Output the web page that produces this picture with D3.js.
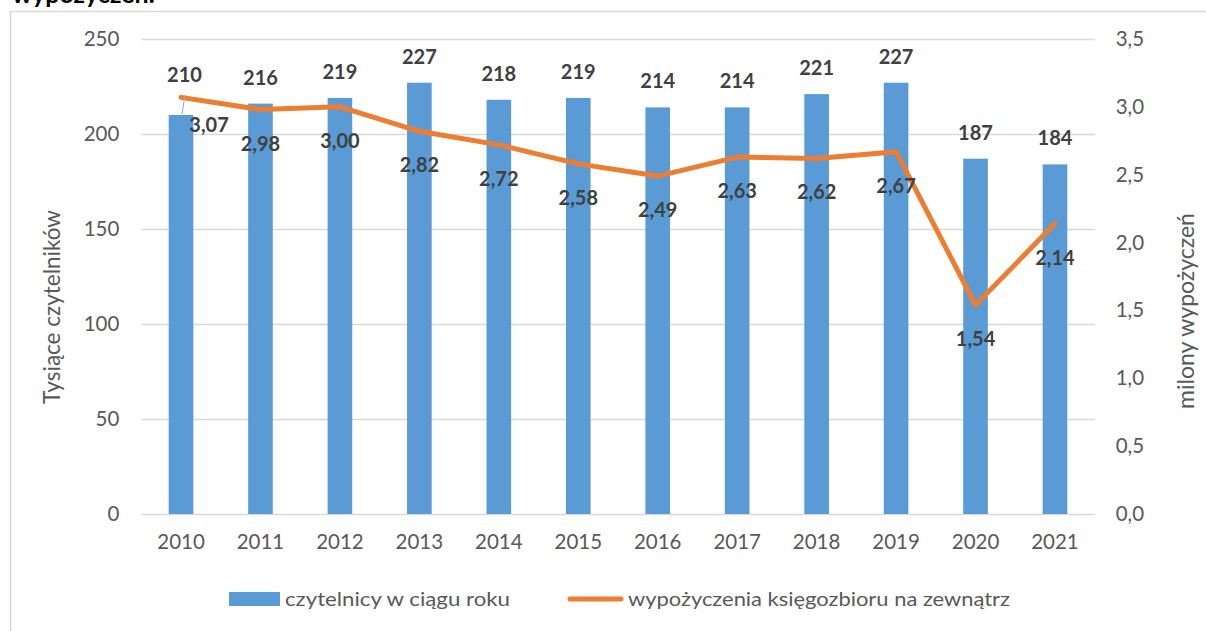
<!DOCTYPE html>
<html>
<head>
<meta charset="utf-8">
<script src="https://cdn.jsdelivr.net/npm/d3@7"></script>
<style>
  html, body { margin: 0; padding: 0; background: #fff; }
  svg { display: block; font-family: Lato, "Open Sans", sans-serif; }
</style>
</head>
<body>
<svg id="chart" width="1206" height="631"></svg>
<script>
// Readers per year (thousands) and external loans (millions)
const years = ["2010","2011","2012","2013","2014","2015","2016","2017","2018","2019","2020","2021"];
const readers = [210, 216, 219, 227, 218, 219, 214, 214, 221, 227, 187, 184];
const loans = [3.07, 2.98, 3.00, 2.82, 2.72, 2.58, 2.49, 2.63, 2.62, 2.67, 1.54, 2.14];
const leftTicks = [0, 50, 100, 150, 200, 250];
const rightTicks = [0, 0.5, 1.0, 1.5, 2.0, 2.5, 3.0, 3.5];
const seriesNames = ["czytelnicy w ciągu roku", "wypożyczenia księgozbioru na zewnątrz"];

const BLUE = "#5B9BD5", ORANGE = "#ED7D31", GRID = "#D9D9D9";
const TICK = "#595959", LABEL = "#404040";

const svg = d3.select("#chart");
const plot = { left: 141.3, right: 1094.7, top: 39, bottom: 514 };

const x = d3.scaleBand().domain(years).range([plot.left, plot.right])
  .paddingInner(0.69).paddingOuter(0.345);
const yL = d3.scaleLinear().domain([0, 250]).range([plot.bottom, plot.top]);
const yR = d3.scaleLinear().domain([0, 3.5]).range([plot.bottom, plot.top]);
const comma = (v, d) => v.toFixed(d).replace(".", ",");

// Title line peeking in from above
svg.append("text").attr("x", 12).attr("y", 3)
  .attr("font-size", 25).attr("font-weight", 700).attr("fill", "#000")
  .text("wypożyczeń.");

// Chart frame
svg.append("rect").attr("x", 10.5).attr("y", 11.5).attr("width", 1220).attr("height", 640)
  .attr("fill", "none").attr("stroke", GRID).attr("stroke-width", 1.5);

// Gridlines + left axis
const axL = svg.append("g").attr("transform", `translate(${plot.left},0)`)
  .call(d3.axisLeft(yL).tickValues(leftTicks).tickSize(-(plot.right - plot.left)).tickPadding(22));
axL.select(".domain").remove();
axL.selectAll(".tick line").attr("stroke", GRID).attr("stroke-width", 1.3);
axL.selectAll(".tick text").attr("fill", TICK).attr("font-size", 20.5)
  .attr("font-family", "Lato, sans-serif");

// Right axis
const axR = svg.append("g").attr("transform", `translate(${plot.right},0)`)
  .call(d3.axisRight(yR).tickValues(rightTicks).tickSize(0).tickPadding(21)
    .tickFormat(d => comma(d, 1)));
axR.select(".domain").remove();
axR.selectAll(".tick text").attr("fill", TICK).attr("font-size", 20.5)
  .attr("font-family", "Lato, sans-serif");

// Category axis
const axX = svg.append("g").attr("transform", `translate(0,${plot.bottom})`)
  .call(d3.axisBottom(x).tickSize(0).tickPadding(20));
axX.select(".domain").remove();
axX.selectAll(".tick text").attr("fill", TICK).attr("font-size", 20.5)
  .attr("font-family", "Lato, sans-serif");

// Axis titles
svg.append("text").attr("transform", "translate(60,307) rotate(-90)")
  .attr("text-anchor", "middle").attr("font-size", 22.5).attr("fill", TICK)
  .text("Tysiące czytelników");
svg.append("text").attr("transform", "translate(1194,311) rotate(-90)")
  .attr("text-anchor", "middle").attr("font-size", 23).attr("fill", TICK)
  .text("milony wypożyczeń");

// Bars
svg.append("g").selectAll("rect").data(years).join("rect")
  .attr("x", d => x(d)).attr("width", x.bandwidth())
  .attr("y", (d, i) => yL(readers[i]))
  .attr("height", (d, i) => yL(0) - yL(readers[i]))
  .attr("fill", BLUE);

// Line
const cx = d => x(d) + x.bandwidth() / 2;
svg.append("path").datum(years)
  .attr("fill", "none").attr("stroke", ORANGE).attr("stroke-width", 5)
  .attr("stroke-linejoin", "round").attr("stroke-linecap", "round")
  .attr("d", d3.line().x(d => cx(d)).y((d, i) => yR(loans[i])));

// Bar value labels (first one lifted clear of the line, with a leader)
const barLab = svg.append("g").attr("font-size", 20).attr("font-weight", 700)
  .attr("fill", LABEL).attr("text-anchor", "middle");
years.forEach((yr, i) => {
  let lx = cx(yr), ly = yL(readers[i]) - 19;
  if (i === 0) {
    lx += 3.5; ly -= 14;
    svg.append("line").attr("x1", cx(yr) + 4).attr("y1", ly + 13)
      .attr("x2", cx(yr) + 1).attr("y2", yL(readers[i]) - 1)
      .attr("stroke", "#A6A6A6").attr("stroke-width", 1);
  }
  barLab.append("text").attr("x", lx).attr("y", ly).text(readers[i]);
});

// Line value labels below each point
const lineLab = svg.append("g").attr("font-size", 20).attr("font-weight", 700)
  .attr("fill", LABEL).attr("text-anchor", "middle");
years.forEach((yr, i) => {
  let lx = cx(yr), ly = yR(loans[i]) + 41;
  if (i === 0) { lx += 28; ly -= 6; }
  lineLab.append("text").attr("x", lx).attr("y", ly).text(comma(loans[i], 2));
});

// Legend
const leg = svg.append("g");
leg.append("rect").attr("x", 229).attr("y", 592).attr("width", 51).attr("height", 14).attr("fill", BLUE);
leg.append("text").attr("x", 285).attr("y", 606).attr("font-size", 20).attr("fill", TICK)
  .attr("textLength", 225).attr("lengthAdjust", "spacingAndGlyphs").text(seriesNames[0]);
leg.append("line").attr("x1", 570).attr("x2", 621).attr("y1", 599).attr("y2", 599)
  .attr("stroke", ORANGE).attr("stroke-width", 5).attr("stroke-linecap", "round");
leg.append("text").attr("x", 628).attr("y", 606).attr("font-size", 20).attr("fill", TICK)
  .attr("textLength", 382).attr("lengthAdjust", "spacingAndGlyphs").text(seriesNames[1]);
</script>
</body>
</html>
